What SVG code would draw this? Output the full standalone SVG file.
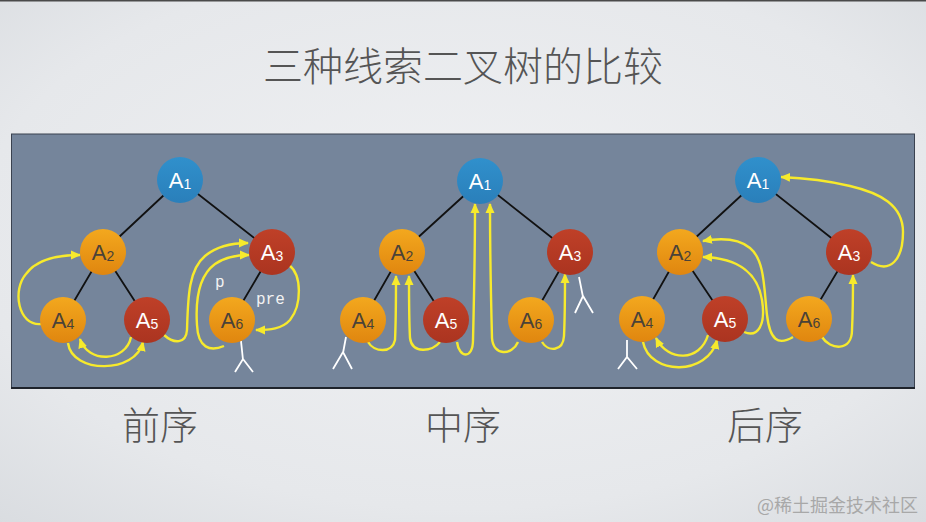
<svg xmlns="http://www.w3.org/2000/svg" width="926" height="522" viewBox="0 0 926 522">
<defs>
<radialGradient id="bg" cx="0.5" cy="0.45" r="0.75">
<stop offset="0" stop-color="#f0f1f3"/>
<stop offset="0.7" stop-color="#e6e8eb"/>
<stop offset="1" stop-color="#d9dce0"/>
</radialGradient>
<linearGradient id="org" x1="0" y1="0" x2="0" y2="1">
<stop offset="0" stop-color="#f3a81e"/>
<stop offset="1" stop-color="#e0860f"/>
</linearGradient>
<linearGradient id="red" x1="0" y1="0" x2="0" y2="1">
<stop offset="0" stop-color="#bf4028"/>
<stop offset="1" stop-color="#ab3420"/>
</linearGradient>
<linearGradient id="blu" x1="0" y1="0" x2="0" y2="1">
<stop offset="0" stop-color="#3090cc"/>
<stop offset="1" stop-color="#2a7fba"/>
</linearGradient>
<marker id="ah" markerWidth="10" markerHeight="10" refX="9" refY="5" orient="auto" markerUnits="userSpaceOnUse">
<path d="M0,0.5 L10,5 L0,9.5 z" fill="#f7ea2c"/>
</marker>
<style>
.edge{stroke:#111;stroke-width:1.8;fill:none}
.th{stroke:#f7ea2c;stroke-width:2.4;fill:none;marker-end:url(#ah)}
.nul{stroke:#fff;stroke-width:1.8;fill:none}
.o{fill:url(#org)}
.r{fill:url(#red)}
.b{fill:url(#blu)}
.lbl{font-family:"Liberation Sans",Arial,sans-serif;font-size:22px;text-anchor:middle}
.lt{fill:#fff}
.dk{fill:#4a4238}
.sub{font-size:14px}
.code{font-family:"Liberation Mono","DejaVu Sans Mono",monospace;font-size:16px;fill:#f2f2f2}
.cjk{font-family:"Noto Sans CJK SC","Noto Sans CJK JP",sans-serif;fill:#555;text-anchor:middle}
</style>
</defs>
<rect x="0" y="0" width="926" height="522" fill="url(#bg)"/>
<rect x="0" y="0" width="926" height="1.5" fill="#4a4a4a"/>
<text class="cjk" x="463" y="81" font-size="40" font-weight="300">三种线索二叉树的比较</text>
<rect x="11.5" y="134" width="903" height="254" fill="#75859b" stroke="#3a4250" stroke-width="1"/>
<rect x="11" y="387" width="904" height="2" fill="#1e232b"/>

<g id="connectors">
<g id="edges">
<path class="edge" d="M180,180 L103,252 M180,180 L272,252 M103,252 L63,320 M103,252 L147,320 M272,252 L232,320"/>
<path class="edge" d="M480,181 L402,252 M480,181 L570,252 M402,252 L363,320 M402,252 L446,320 M570,252 L531,320"/>
<path class="edge" d="M758,180 L680,252 M758,180 L849,252 M680,252 L642,319 M680,252 L725,319 M849,252 L809,319"/>
</g>
<g id="nulls">
<path class="nul" d="M241,341 L243,360 M235,372 L243,359 L253,372"/>
<path class="nul" d="M346,337 L343,353 M333,369 L343,352 L352,369"/>
<path class="nul" d="M579,277 L583,297 M575,313 L583,296 L593,313"/>
<path class="nul" d="M627,340 L627,358 M618,369 L627,357 L637,369"/>
</g>
<g id="threads">
<path class="th" d="M41,324 C18,326 12,290 26,274 C36,260 58,255 80,255"/>
<path class="th" d="M131,337 C126,362 88,364 80,339"/>
<path class="th" d="M68,343 C72,374 136,374 143,342"/>
<path class="th" d="M164,335 C174,344 186,344 187,330 C188,300 188,270 205,256 C217,246 232,243 248,243"/>
<path class="th" d="M224,346 C210,352 198,348 197,325 C195,295 200,275 215,264 C225,257 235,255 249,255"/>
<path class="th" d="M289,265 C302,275 302,305 290,320 C282,329 270,330 256,330"/>

<path class="th" d="M368,342 C374,352 392,354 395,340 C396,320 396,300 396,276"/>
<path class="th" d="M440,342 C432,352 412,354 410,338 C409,320 409,300 409,276"/>
<path class="th" d="M457,342 C459,358 473,360 473,340 C474,300 475,250 475,204"/>
<path class="th" d="M518,342 C512,356 493,356 492,338 C491,300 490,250 490,204"/>
<path class="th" d="M542,342 C548,352 563,352 564,336 C565,315 565,295 565,274"/>

<path class="th" d="M643,342 C650,376 708,376 717,340"/>
<path class="th" d="M708,335 C700,362 668,362 656,338"/>
<path class="th" d="M744,332 C758,338 766,325 762,300 C758,275 740,258 703,257"/>
<path class="th" d="M793,337 C778,346 770,340 767,315 C764,290 765,260 750,248 C738,238 720,238 703,241"/>
<path class="th" d="M822,337 C830,350 852,352 852,330 C853,310 853,295 853,275"/>
<path class="th" d="M871,262 C890,274 903,260 903,232 C903,205 880,193 850,186 C825,180 805,178 781,177"/>
</g>
</g>

<g id="t1">
<g id="t1-A1"><circle class="b" cx="180" cy="180" r="23"/><text class="lbl lt" x="180" y="188">A<tspan class="sub" dy="1">1</tspan></text></g>
<g id="t1-A2"><circle class="o" cx="103" cy="252" r="23"/><text class="lbl dk" x="103" y="260">A<tspan class="sub" dy="1">2</tspan></text></g>
<g id="t1-A3"><circle class="r" cx="272" cy="252" r="23"/><text class="lbl lt" x="272" y="260">A<tspan class="sub" dy="1">3</tspan></text></g>
<g id="t1-A4"><circle class="o" cx="63" cy="320" r="23"/><text class="lbl dk" x="63" y="328">A<tspan class="sub" dy="1">4</tspan></text></g>
<g id="t1-A5"><circle class="r" cx="147" cy="320" r="23"/><text class="lbl lt" x="147" y="328">A<tspan class="sub" dy="1">5</tspan></text></g>
<g id="t1-A6"><circle class="o" cx="232" cy="320" r="23"/><text class="lbl dk" x="232" y="328">A<tspan class="sub" dy="1">6</tspan></text></g>
<text class="code" x="215" y="287">p</text>
<text class="code" x="256" y="304">pre</text>
</g>

<g id="t2">
<g id="t2-A1"><circle class="b" cx="480" cy="181" r="23"/><text class="lbl lt" x="480" y="189">A<tspan class="sub" dy="1">1</tspan></text></g>
<g id="t2-A2"><circle class="o" cx="402" cy="252" r="23"/><text class="lbl dk" x="402" y="260">A<tspan class="sub" dy="1">2</tspan></text></g>
<g id="t2-A3"><circle class="r" cx="570" cy="252" r="23"/><text class="lbl lt" x="570" y="260">A<tspan class="sub" dy="1">3</tspan></text></g>
<g id="t2-A4"><circle class="o" cx="363" cy="320" r="23"/><text class="lbl dk" x="363" y="328">A<tspan class="sub" dy="1">4</tspan></text></g>
<g id="t2-A5"><circle class="r" cx="446" cy="320" r="23"/><text class="lbl lt" x="446" y="328">A<tspan class="sub" dy="1">5</tspan></text></g>
<g id="t2-A6"><circle class="o" cx="531" cy="320" r="23"/><text class="lbl dk" x="531" y="328">A<tspan class="sub" dy="1">6</tspan></text></g>
</g>

<g id="t3">
<g id="t3-A1"><circle class="b" cx="758" cy="180" r="23"/><text class="lbl lt" x="758" y="188">A<tspan class="sub" dy="1">1</tspan></text></g>
<g id="t3-A2"><circle class="o" cx="680" cy="252" r="23"/><text class="lbl dk" x="680" y="260">A<tspan class="sub" dy="1">2</tspan></text></g>
<g id="t3-A3"><circle class="r" cx="849" cy="252" r="23"/><text class="lbl lt" x="849" y="260">A<tspan class="sub" dy="1">3</tspan></text></g>
<g id="t3-A4"><circle class="o" cx="642" cy="319" r="23"/><text class="lbl dk" x="642" y="327">A<tspan class="sub" dy="1">4</tspan></text></g>
<g id="t3-A5"><circle class="r" cx="725" cy="319" r="23"/><text class="lbl lt" x="725" y="327">A<tspan class="sub" dy="1">5</tspan></text></g>
<g id="t3-A6"><circle class="o" cx="809" cy="319" r="23"/><text class="lbl dk" x="809" y="327">A<tspan class="sub" dy="1">6</tspan></text></g>
</g>

<text class="cjk" x="160" y="439" font-size="38" font-weight="300">前序</text>
<text class="cjk" x="463" y="439" font-size="38" font-weight="300">中序</text>
<text class="cjk" x="765" y="439" font-size="38" font-weight="300">后序</text>
<text x="918" y="512" font-family="Noto Sans CJK SC, sans-serif" font-size="18" fill="#a8a8a8" text-anchor="end">@稀土掘金技术社区</text>
</svg>
